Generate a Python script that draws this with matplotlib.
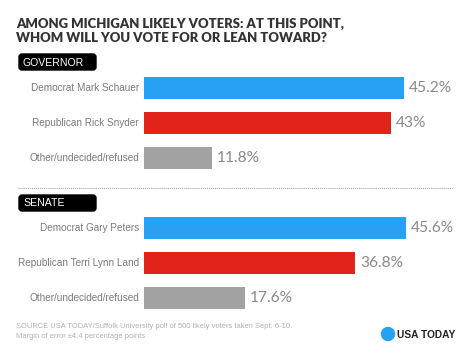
import numpy as np
import matplotlib.pyplot as plt
from matplotlib.patches import FancyBboxPatch, Circle

# data
gov_labels = ["Democrat Mark Schauer", "Republican Rick Snyder", "Other/undecided/refused"]
gov_values = [45.2, 43, 11.8]
sen_labels = ["Democrat Gary Peters", "Republican Terri Lynn Land", "Other/undecided/refused"]
sen_values = [45.6, 36.8, 17.6]
bar_colors = ["#27a1f3", "#e2231b", "#a2a2a2"]

W, H = 474, 355
fig = plt.figure(figsize=(W / 100, H / 100), dpi=100)
fig.patch.set_facecolor("white")

# background axes in pixel units for decorations
bg = fig.add_axes([0, 0, 1, 1])
bg.set_xlim(0, W)
bg.set_ylim(H, 0)
bg.axis("off")

bg.text(16, 24, "AMONG MICHIGAN LIKELY VOTERS: AT THIS POINT,", fontsize=9.45,
        fontweight="heavy", family="Lato", color="#333333", va="center")
bg.text(16, 37.5, "WHOM WILL YOU VOTE FOR OR LEAN TOWARD?", fontsize=9.45,
        fontweight="heavy", family="Lato", color="#333333", va="center")


def section_box(y0, text):
    bg.add_patch(FancyBboxPatch((19, y0 + 1), 77, 16, boxstyle="round,pad=0,rounding_size=3",
                                fc="black", ec="black"))
    bg.text(23, y0 + 9.5, text, color="white", fontsize=7.6, family="Liberation Sans",
            va="center", ha="left")


section_box(53, "GOVERNOR")
section_box(194, "SENATE")
bg.plot([18, 452], [188, 188], color="#999999", lw=0.7, ls=(0, (1, 1)))

bg.text(16, 327, "SOURCE USA TODAY/Suffolk University poll of 500 likely voters taken Sept. 6-10.",
        fontsize=5.4, color="#b0b0b0", family="Liberation Sans", va="center")
bg.text(16, 337, "Margin of error \u00b14.4 percentage points",
        fontsize=5.4, color="#b0b0b0", family="Liberation Sans", va="center")
bg.add_patch(Circle((388, 334), 6.5, color="#27a1f3"))
bg.text(397, 334.5, "USA TODAY", fontsize=7.3, fontweight="bold", family="Liberation Sans",
        color="#222222", va="center", ha="left")

px_per_unit = 5.745
x0 = 144


def bar_panel(top_px, labels, values):
    ax_h = 105
    ax = fig.add_axes([x0 / W, 1 - (top_px + ax_h) / H, 50 * px_per_unit / W, ax_h / H])
    y = np.arange(len(values))
    ax.barh(y, values, height=0.65, color=bar_colors)
    ax.set_xlim(0, 50)
    ax.set_ylim(len(values) - 0.5, -0.5)
    ax.axis("off")
    for yi, v, lab in zip(y, values, labels):
        ax.text(v + 0.9, yi, f"{v:g}%", va="center", ha="left", fontsize=11.2,
                family="Lato", color="#8a8a8a")
        ax.text(-0.9, yi, lab, va="center", ha="right", fontsize=7.2,
                family="Liberation Sans", color="#7a7a7a")
    ax.patch.set_alpha(0)
    return ax


bar_panel(70.5, gov_labels, gov_values)
bar_panel(210.5, sen_labels, sen_values)

fig.savefig("out.png", dpi=100)
